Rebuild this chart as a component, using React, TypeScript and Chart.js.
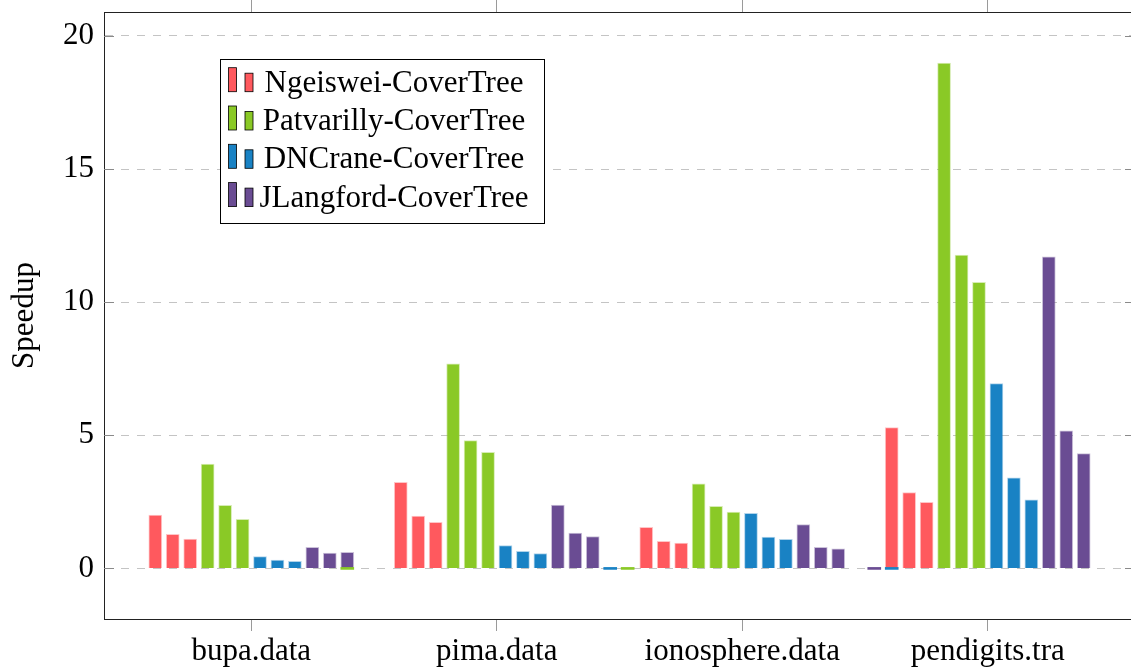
import React, { useEffect, useRef } from 'react';
import { Chart, registerables } from 'chart.js';

Chart.register(...registerables);

// ---- data ----
const categories = ['bupa.data', 'pima.data', 'ionosphere.data', 'pendigits.tra'];
const seriesNames = ['Ngeiswei-CoverTree', 'Patvarilly-CoverTree', 'DNCrane-CoverTree', 'JLangford-CoverTree'];
const seriesColors = ['#FF595E', '#8AC926', '#1982C4', '#6A4C93'];
// three runs per category, categories in order
const ngeiswei = [2.0, 1.28, 1.1, 3.23, 1.97, 1.73, 1.54, 1.02, 0.95, 5.29, 2.85, 2.48];
const patvarilly = [3.92, 2.37, 1.84, 7.68, 4.8, 4.36, 3.18, 2.33, 2.12, 18.98, 11.77, 10.75];
const dncrane = [0.44, 0.31, 0.27, 0.86, 0.64, 0.56, 2.07, 1.18, 1.09, 6.94, 3.4, 2.58];
const jlangford = [0.79, 0.58, 0.6, 2.38, 1.33, 1.2, 1.65, 0.79, 0.74, 11.7, 5.17, 4.31];
// zero-valued bars visible in the figure: [series, category, slot]
const zeroMarks = [
  [1, 0, 11],
  [2, 1, 12],
  [1, 1, 13],
  [3, 3, -1],
  [2, 3, 0],
];
const yTickValues = [0, 5, 10, 15, 20];
const yLabel = 'Speedup';

// ---- layout/style constants ----
const Y_MIN = -1.9;
const Y_MAX = 20.9;
const X_MIN = -0.6;
const X_MAX = 3.6;
const RUNS = 3;
const SLOT = 0.0711;
const FONT = "'Liberation Serif', 'Times New Roman', Times, serif";
const FONT_SIZE = 31;

function withAlpha(hex: string, a: number) {
  const n = parseInt(hex.slice(1), 16);
  return `rgba(${(n >> 16) & 255},${(n >> 8) & 255},${n & 255},${a})`;
}

const boxLegend = {
  id: 'boxLegend',
  afterDraw(chart: any) {
    const ctx = chart.ctx as CanvasRenderingContext2D;
    ctx.save();
    const bx = 220.5, by = 59.5, bw = 324, bh = 164;
    ctx.fillStyle = '#fff';
    ctx.fillRect(bx, by, bw, bh);
    ctx.strokeStyle = '#000';
    ctx.lineWidth = 1;
    ctx.strokeRect(bx, by, bw, bh);
    ctx.font = `${FONT_SIZE}px ${FONT}`;
    ctx.textAlign = 'center';
    ctx.textBaseline = 'alphabetic';
    seriesNames.forEach((name, i) => {
      const base = 91.7 + i * 38.3;
      ctx.fillStyle = seriesColors[i];
      ctx.lineWidth = 0.8;
      ctx.strokeStyle = '#000';
      ctx.fillRect(228.5, base - 24, 8, 24);
      ctx.strokeRect(228.5, base - 24, 8, 24);
      ctx.fillRect(245, base - 18.5, 8, 18.5);
      ctx.strokeRect(245, base - 18.5, 8, 18.5);
      ctx.fillStyle = '#000';
      ctx.fillText(name, 394, base);
    });
    ctx.restore();
  },
};

const innerTicks = {
  id: 'innerTicks',
  afterDatasetsDraw(chart: any) {
    const ctx = chart.ctx as CanvasRenderingContext2D;
    const { left, right } = chart.chartArea;
    const ys = chart.scales.y;
    ctx.save();
    ctx.strokeStyle = '#8a8a8a';
    ctx.lineWidth = 1;
    yTickValues.forEach((v) => {
      const y = Math.round(ys.getPixelForValue(v)) + 0.5;
      ctx.beginPath();
      ctx.moveTo(left, y);
      ctx.lineTo(left + 10, y);
      ctx.moveTo(right - 10, y);
      ctx.lineTo(right, y);
      ctx.stroke();
    });
    ctx.restore();
  },
};

export default function App() {
  const ref = useRef<HTMLCanvasElement>(null);

  useEffect(() => {
    if (!ref.current) return;
    const seriesValues = [ngeiswei, patvarilly, dncrane, jlangford];
    const slotX = (c: number, slot: number) => c + (slot - 5.5) * SLOT;

    const zeroSets = zeroMarks.map(([s, c, slot]) => ({
      label: '_zero',
      data: [{ x: slotX(c, slot), y: 0 }],
      backgroundColor: seriesColors[s],
      borderWidth: 0,
      minBarLength: 2,
      barThickness: 13,
      grouped: false,
    }));

    const mainSets = seriesValues.map((vals, s) => ({
      label: seriesNames[s],
      data: vals.map((v, i) => {
        const c = Math.floor(i / RUNS);
        const r = i % RUNS;
        return { x: slotX(c, s * RUNS + r), y: v };
      }),
      backgroundColor: seriesColors[s],
      borderColor: withAlpha(seriesColors[s], 0.35),
      borderWidth: 1,
      barThickness: 13,
      grouped: false,
    }));

    const setTicks = (axis: any) => {
      axis.ticks = categories.map((_, i) => ({ value: i }));
    };
    const noPad = (s: any) => {
      s.paddingTop = 0;
      s.paddingBottom = 0;
      s.paddingLeft = 0;
      s.paddingRight = 0;
    };

    const chart = new Chart(ref.current, {
      type: 'bar',
      data: { datasets: [...zeroSets, ...mainSets] as any },
      options: {
        responsive: false,
        animation: false,
        layout: { padding: { left: 0, right: 5, top: 0, bottom: 0 } },
        plugins: { legend: { display: false }, tooltip: { enabled: false } },
        scales: {
          x: {
            type: 'linear',
            position: 'bottom',
            min: X_MIN,
            max: X_MAX,
            offset: false,
            afterBuildTicks: setTicks,
            afterFit: (s: any) => {
              s.height = 51;
              noPad(s);
            },
            grid: { drawOnChartArea: false, drawTicks: true, tickLength: 12, color: '#9a9a9a', offset: false },
            border: { display: true, color: '#222', width: 1 },
            ticks: {
              font: { family: FONT, size: FONT_SIZE },
              color: '#000',
              padding: 2,
              maxRotation: 0,
              autoSkip: false,
              callback: (v: any) => categories[v as number] ?? '',
            },
          },
          x2: {
            type: 'linear',
            position: 'top',
            min: X_MIN,
            max: X_MAX,
            offset: false,
            afterBuildTicks: setTicks,
            afterFit: (s: any) => {
              s.height = 12;
              noPad(s);
            },
            grid: { drawOnChartArea: false, drawTicks: true, tickLength: 12, color: '#9a9a9a', offset: false },
            border: { display: true, color: '#222', width: 1 },
            ticks: { display: false },
          },
          y: {
            type: 'linear',
            position: 'left',
            min: Y_MIN,
            max: Y_MAX,
            afterBuildTicks: (axis: any) => {
              axis.ticks = yTickValues.map((v) => ({ value: v }));
            },
            afterFit: (s: any) => {
              s.width = 104;
              noPad(s);
            },
            grid: { color: '#c4c4c4', drawTicks: false, lineWidth: 1 },
            border: { display: true, color: '#222', width: 1, dash: [8, 8] },
            ticks: {
              font: { family: FONT, size: FONT_SIZE },
              color: '#000',
              padding: 10,
              callback: (v: any) => String(v),
            },
            title: {
              display: true,
              text: yLabel,
              font: { family: FONT, size: FONT_SIZE },
              color: '#000',
              padding: { top: 6, bottom: 0 },
            },
          },
        },
      },
      plugins: [innerTicks, boxLegend],
    } as any);

    return () => chart.destroy();
  }, []);

  return (
    <div
      style={{
        position: 'fixed',
        left: 0,
        top: 0,
        width: 1131,
        height: 670,
        overflow: 'hidden',
        background: '#fff',
      }}
    >
      <canvas ref={ref} width={1140} height={670} style={{ display: 'block' }} />
    </div>
  );
}
